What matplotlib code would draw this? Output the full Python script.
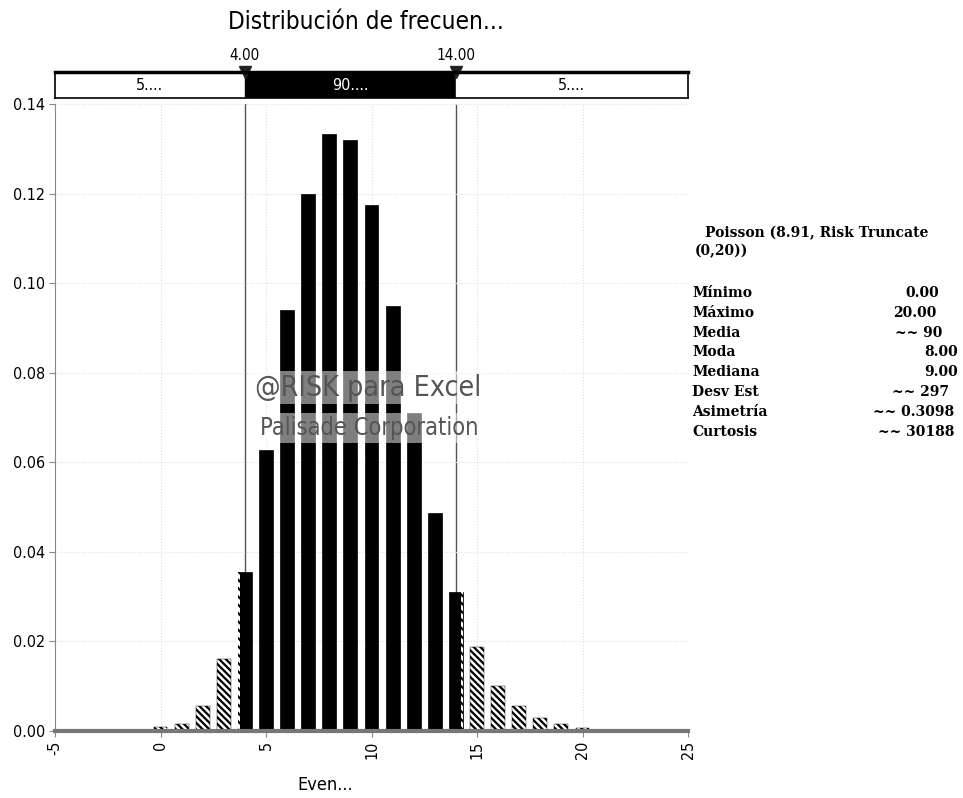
import numpy as np
import matplotlib
matplotlib.use("Agg")
import matplotlib.pyplot as plt

# datos
eventos = list(range(0, 21))
frecuencia = [0.0008, 0.0015, 0.0055, 0.016, 0.0355, 0.0627, 0.094, 0.12, 0.1333, 0.132,
              0.1175, 0.095, 0.071, 0.0487, 0.031, 0.0187, 0.010, 0.0055, 0.003, 0.0015, 0.0007]
lim_inf, lim_sup = 4.0, 14.0
pct_bandas = ["5....", "90....", "5...."]
titulo = "Distribución de frecuen..."
xlab = "Even..."
xticks = [-5, 0, 5, 10, 15, 20, 25]
yticks = [0.00, 0.02, 0.04, 0.06, 0.08, 0.10, 0.12, 0.14]

stats_titulo = "Poisson (8.91, Risk Truncate"
stats_titulo2 = "(0,20))"
stats_nombres = ["Mínimo", "Máximo", "Media", "Moda", "Mediana", "Desv Est", "Asimetría", "Curtosis"]
stats_valores = ["0.00", "20.00", "~~ 90", "8.00", "9.00", "~~ 297", "~~ 0.3098", "~~ 30188"]
stats_xval = [905, 893, 895, 924, 924, 892, 873, 878]  # posicion en pixeles

plt.rcParams['hatch.linewidth'] = 1.6
tick_font = dict(family="DejaVu Sans", stretch="condensed", size=11.5)

W, H = 963, 798
fig = plt.figure(figsize=(W/100, H/100), dpi=100)
ax = fig.add_axes([55/W, 1-731/H, (688-55)/W, (731-104)/H])

ancho = 0.66
for x, v in zip(eventos, frecuencia):
    if lim_inf <= x <= lim_sup:
        ax.bar(x, v, width=ancho, color="black", edgecolor="black", linewidth=0.5, zorder=2)
    else:
        ax.bar(x, v, width=ancho, color="white", edgecolor="black", linewidth=0.3,
               hatch="\\\\\\\\\\", zorder=2)
    # borde rayado en las barras que cortan los limites
    if x == lim_inf:
        ax.bar(x - ancho/2, v, width=0.09, align="edge", color="white", edgecolor="black",
               linewidth=0, hatch="\\\\\\\\", zorder=2.5)
    if x == lim_sup:
        ax.bar(x + ancho/2 - 0.09, v, width=0.09, align="edge", color="white", edgecolor="black",
               linewidth=0, hatch="\\\\\\\\", zorder=2.5)

ax.set_xlim(-5, 25)
ax.set_ylim(0, 0.14)
ax.set_xticks(xticks)
ax.set_yticks(yticks)
ax.set_xticklabels([str(t) for t in xticks], rotation=90, **tick_font)
ax.set_yticklabels(["%.2f" % t for t in yticks], **tick_font)
ax.grid(True, color="#dddddd", linestyle=":", linewidth=0.8, zorder=0)
for s in ["top", "right"]:
    ax.spines[s].set_visible(False)
ax.spines["left"].set_color("#888888")
ax.spines["bottom"].set_color("#777777")
ax.spines["bottom"].set_linewidth(3)
ax.tick_params(length=4, color="#888888", pad=3)

for lim in (lim_inf, lim_sup):
    ax.axvline(lim, color="#555555", linewidth=1.0, zorder=1)

ax.text(0.316, 0.535, "@RISK para Excel", transform=ax.transAxes, fontsize=20.5,
        family="DejaVu Sans", stretch="condensed", color="#555555", zorder=3,
        bbox=dict(facecolor="white", alpha=0.5, edgecolor="none", pad=2))
ax.text(0.324, 0.472, "Palisade Corporation", transform=ax.transAxes, fontsize=17,
        family="DejaVu Sans", stretch="condensed", color="#555555", zorder=3,
        bbox=dict(facecolor="white", alpha=0.5, edgecolor="none", pad=2))

# banda superior
bx = fig.add_axes([55/W, 1-98/H, (688-55)/W, 26/H])
bx.set_xlim(-5, 25)
bx.set_ylim(0, 1)
bx.axvspan(-5, lim_inf, color="white")
bx.axvspan(lim_inf, lim_sup, color="black")
bx.axvspan(lim_sup, 25, color="white")
bx.set_xticks([])
bx.set_yticks([])
for s in bx.spines.values():
    s.set_linewidth(1.2)
bx.spines["top"].set_linewidth(2.5)
mids = [(-5 + lim_inf)/2, (lim_inf + lim_sup)/2, (lim_sup + 25)/2]
for m, t, c in zip(mids, pct_bandas, ["black", "white", "black"]):
    bx.text(m, 0.5, t, ha="center", va="center", color=c, family="DejaVu Sans",
            stretch="condensed", size=11.5)
for lim in (lim_inf, lim_sup):
    bx.plot([lim], [1.0], marker="v", color="#222222", markersize=8, clip_on=False)
    bx.text(lim, 1.35, "%.2f" % lim, ha="center", va="bottom", family="DejaVu Sans",
            stretch="condensed", size=11)

fig.text(366/W, 1-22/H, titulo, ha="center", va="center", family="DejaVu Sans",
         stretch="condensed", size=17.5)
fig.text(325/W, 1-785/H, xlab, ha="center", va="center", family="DejaVu Sans",
         stretch="condensed", size=13)

# estadisticas
serif = dict(family="DejaVu Serif", weight="bold", size=10)
fig.text(705/W, 1-233/H, stats_titulo, va="center", **serif)
fig.text(695/W, 1-251/H, stats_titulo2, va="center", **serif)
for i, (n, v) in enumerate(zip(stats_nombres, stats_valores)):
    y = 1 - (293 + i*19.8)/H
    fig.text(692/W, y, n, va="center", **serif)
    fig.text(stats_xval[i]/W, y, v, va="center", **serif)

fig.savefig("out.png", dpi=100)
